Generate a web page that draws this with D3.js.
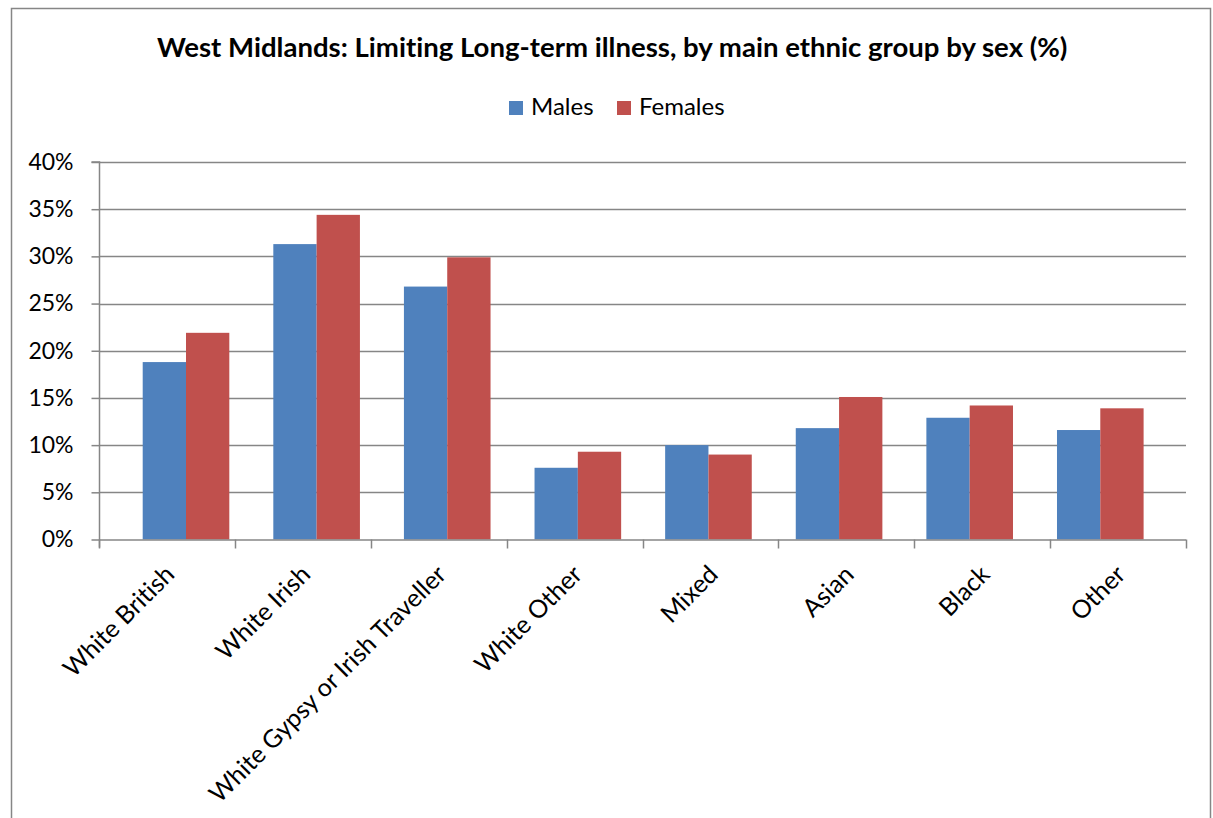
<!DOCTYPE html>
<html>
<head>
<meta charset="utf-8">
<script src="https://cdn.jsdelivr.net/npm/d3@7"></script>
<style>
  html, body { margin: 0; padding: 0; background: #fff; }
  svg { display: block; }
  text { font-family: Lato, "Open Sans", sans-serif; fill: #000; font-variant-ligatures: none; font-feature-settings: "liga" 0, "clig" 0; }
</style>
</head>
<body>
<svg id="chart" width="1213" height="818"></svg>
<script>
// Limiting long-term illness in the West Midlands, by ethnic group and sex
const categories = ["White British", "White Irish", "White Gypsy or Irish Traveller", "White Other", "Mixed", "Asian", "Black", "Other"];
const seriesNames = ["Males", "Females"];
const males   = [18.8, 31.3, 26.8, 7.6, 10.0, 11.8, 12.9, 11.6];
const females = [21.9, 34.4, 29.9, 9.3,  9.0, 15.1, 14.2, 13.9];
const yTicks  = [0, 5, 10, 15, 20, 25, 30, 35, 40];
const colors  = ["#4F81BD", "#C0504D"];
const title   = "West Midlands: Limiting Long-term illness, by main ethnic group by sex (%)";

const svg = d3.select("#chart");
const W = 1213, H = 818;
const plot = { left: 99, right: 1186, top: 162, bottom: 539.5 };
const barSpan = [120.7, 1165.6];   // horizontal extent used by the bar groups
const grey = "#868686";

// outer chart frame
svg.append("rect")
  .attr("x", 11.5).attr("y", 8.5)
  .attr("width", 1199).attr("height", H + 20)
  .attr("fill", "#fff").attr("stroke", grey).attr("stroke-width", 1.5);

// title, sized to its frame width
const titleText = svg.append("text")
  .attr("x", 157).attr("y", 57)
  .attr("font-weight", "bold")
  .attr("font-size", 26)
  .text(title);
const tw = titleText.node().getComputedTextLength();
titleText.attr("font-size", 26 * 911 / tw);

// category axis (ticks and labels) and bar placement scales
const x = d3.scaleBand().domain(categories).range([plot.left, plot.right]).padding(0);
const xb = d3.scaleBand().domain(categories).range(barSpan).padding(0);
const x1 = d3.scaleBand().domain(seriesNames).range([0, xb.bandwidth()])
  .paddingInner(0).paddingOuter(0.508);
const y = d3.scaleLinear().domain([0, 40]).range([plot.bottom, plot.top]);

// horizontal gridlines
svg.append("g")
  .selectAll("line")
  .data(yTicks.filter(d => d > 0))
  .join("line")
  .attr("x1", plot.left).attr("x2", plot.right)
  .attr("y1", d => Math.round(y(d)) + 0.5).attr("y2", d => Math.round(y(d)) + 0.5)
  .attr("stroke", grey).attr("stroke-width", 1.5);

// bars
const rows = categories.map((c, i) => ({ cat: c, values: [males[i], females[i]] }));
svg.append("g")
  .selectAll("g")
  .data(rows)
  .join("g")
  .attr("transform", d => `translate(${xb(d.cat)},0)`)
  .selectAll("rect")
  .data(d => d.values.map((v, j) => ({ key: seriesNames[j], v, j })))
  .join("rect")
  .attr("x", d => x1(d.key))
  .attr("width", x1.bandwidth())
  .attr("y", d => y(d.v))
  .attr("height", d => y(0) - y(d.v))
  .attr("fill", d => colors[d.j]);

// y axis
const yAxis = svg.append("g")
  .attr("transform", `translate(${plot.left + 0.5},0)`)
  .call(d3.axisLeft(y).tickValues(yTicks).tickFormat(d => d + "%").tickSize(8).tickPadding(18));
yAxis.select(".domain").attr("stroke", grey).attr("stroke-width", 1.5)
  .attr("d", `M-8,${plot.top}H0V${plot.bottom + 8}`);
yAxis.selectAll(".tick line").attr("stroke", grey).attr("stroke-width", 1.5);
yAxis.selectAll(".tick text").attr("font-size", 23).attr("font-family", "Lato, sans-serif").attr("fill", "#000");

// x axis: ticks at category boundaries
const xAxisG = svg.append("g");
xAxisG.append("line")
  .attr("x1", plot.left).attr("x2", plot.right)
  .attr("y1", plot.bottom + 0.5).attr("y2", plot.bottom + 0.5)
  .attr("stroke", grey).attr("stroke-width", 1.5);
const bounds = categories.map(c => x(c)).concat([x.range()[1]]);
xAxisG.selectAll("line.tick")
  .data(bounds)
  .join("line")
  .attr("class", "tick")
  .attr("x1", d => Math.round(d) + 0.5).attr("x2", d => Math.round(d) + 0.5)
  .attr("y1", plot.bottom).attr("y2", plot.bottom + 9)
  .attr("stroke", grey).attr("stroke-width", 1.5);

// rotated category labels
xAxisG.selectAll("text")
  .data(categories)
  .join("text")
  .attr("transform", d => `translate(${x(d) + x.bandwidth() / 2 + 9},576) rotate(-45)`)
  .attr("text-anchor", "end")
  .attr("font-size", 25)
  .text(d => d);

// legend
const legend = svg.append("g").attr("transform", "translate(509,115)");
const items = [{ name: seriesNames[0], dx: 0 }, { name: seriesNames[1], dx: 108 }];
items.forEach((it, j) => {
  const g = legend.append("g").attr("transform", `translate(${it.dx},0)`);
  g.append("rect").attr("x", 0).attr("y", -14).attr("width", 14).attr("height", 14).attr("fill", colors[j]);
  g.append("text").attr("x", 22).attr("y", 0).attr("font-size", 24).text(it.name);
});
</script>
</body>
</html>
